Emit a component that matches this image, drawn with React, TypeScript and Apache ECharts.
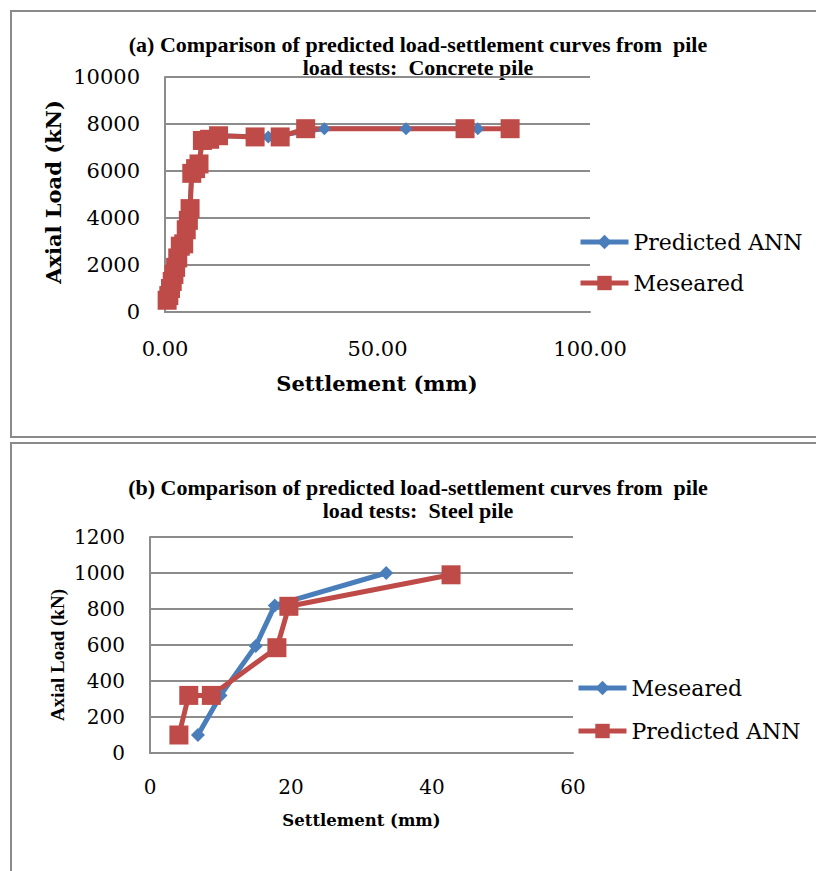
import React, { useEffect, useRef } from "react";
import * as echarts from "echarts";

// ---- Data: (a) Concrete pile ----
const topAnnSettlement = [0.6, 1.0, 1.5, 2.0, 2.5, 3.0, 3.6, 4.4, 5.0, 5.4, 5.8, 6.3, 7.0, 8.0, 8.8, 11.0, 13.5, 24.3, 37.5, 56.7, 73.6];
const topAnnLoad = [500, 750, 1050, 1400, 1700, 2100, 2500, 2850, 3200, 3800, 4400, 5900, 6200, 6400, 7300, 7400, 7500, 7450, 7800, 7800, 7800];
const topMesSettlement = [0.5, 0.9, 1.3, 1.7, 2.1, 2.5, 3.0, 3.6, 4.4, 5.0, 5.5, 5.9, 6.3, 7.2, 8.0, 8.8, 10.5, 12.6, 21.2, 27.1, 33.1, 70.6, 81.2];
const topMesLoad = [500, 700, 1000, 1300, 1600, 1900, 2300, 2800, 2900, 3500, 3900, 4400, 5900, 6100, 6300, 7300, 7350, 7500, 7450, 7450, 7800, 7800, 7800];

// ---- Data: (b) Steel pile ----
const botMesSettlement = [6.8, 10.0, 15.0, 17.7, 33.5];
const botMesLoad = [100, 320, 595, 820, 1000];
const botAnnSettlement = [4.1, 5.5, 8.7, 18.0, 19.7, 42.7];
const botAnnLoad = [100, 320, 320, 585, 815, 990];

const topTitle = ["(a) Comparison of predicted load-settlement curves from  pile", "load tests:  Concrete pile"];
const botTitle = ["(b) Comparison of predicted load-settlement curves from  pile", "load tests:  Steel pile"];

const BLUE = "#4A7EBB";
const RED = "#BE4B48";
const GRID = "#8c8c8c";
const CENTURY = "DejaVu Serif";
const TIMES = "Liberation Serif";

const pairs = (xs: number[], ys: number[]) => xs.map((x, i) => [x, ys[i]]);

function titleText(x: number, y: number, text: string) {
  return {
    type: "text",
    x,
    y,
    style: {
      text,
      fontFamily: TIMES,
      fontWeight: "bold",
      fontSize: 22,
      fill: "#000",
      textAlign: "center",
      textVerticalAlign: "middle",
    },
  };
}

function topOption(): any {
  return {
    animation: false,
    graphic: [
      { type: "rect", shape: { x: 11, y: 11, width: 830, height: 426 }, style: { fill: "none", stroke: "#8a8a8a", lineWidth: 2 } },
      titleText(418, 44, topTitle[0]),
      titleText(418, 67, topTitle[1]),
      {
        type: "text", x: 377, y: 383,
        style: { text: "Settlement (mm)", fontFamily: CENTURY, fontWeight: "bold", fontSize: 21, fill: "#000", textAlign: "center", textVerticalAlign: "middle" },
      },
      {
        type: "text", x: 53, y: 192, rotation: Math.PI / 2,
        style: { text: "Axial Load (kN)", fontFamily: CENTURY, fontWeight: "bold", fontSize: 21, fill: "#000", textAlign: "center", textVerticalAlign: "middle" },
      },
    ],
    grid: { left: 165, top: 77, width: 425, height: 235 },
    xAxis: {
      type: "value", min: 0, max: 100, interval: 50,
      axisLine: { show: true, lineStyle: { color: GRID, width: 2 } },
      axisTick: { show: false },
      splitLine: { show: false },
      axisLabel: { formatter: (v: number) => v.toFixed(2), fontFamily: CENTURY, fontSize: 21, color: "#000", margin: 26 },
    },
    yAxis: {
      type: "value", min: 0, max: 10000, interval: 2000,
      axisLine: { show: true, lineStyle: { color: GRID, width: 2 } },
      axisTick: { show: false },
      splitLine: { show: true, lineStyle: { color: GRID, width: 2 } },
      axisLabel: { formatter: (v: number) => String(v), fontFamily: CENTURY, fontSize: 21, color: "#000", margin: 25 },
    },
    legend: {
      orient: "vertical", left: 573, top: 226, itemWidth: 48, itemHeight: 18, itemGap: 19,
      lineStyle: { width: 5 },
      textStyle: { fontFamily: CENTURY, fontSize: 22, color: "#000" },
      data: ["Predicted ANN", "Meseared"],
    },
    series: [
      {
        name: "Predicted ANN", type: "line", data: pairs(topAnnSettlement, topAnnLoad),
        symbol: "diamond", symbolSize: 13, itemStyle: { color: BLUE }, lineStyle: { color: BLUE, width: 4.5 },
      },
      {
        name: "Meseared", type: "line", data: pairs(topMesSettlement, topMesLoad),
        symbol: "rect", symbolSize: 19, itemStyle: { color: RED }, lineStyle: { color: RED, width: 5 },
      },
    ],
  };
}

function botOption(): any {
  return {
    animation: false,
    graphic: [
      { type: "rect", shape: { x: 11, y: 3, width: 830, height: 460 }, style: { fill: "none", stroke: "#8a8a8a", lineWidth: 2 } },
      titleText(418, 47, botTitle[0]),
      titleText(418, 70, botTitle[1]),
      {
        type: "text", x: 361.5, y: 380,
        style: { text: "Settlement (mm)", fontFamily: CENTURY, fontWeight: "bold", fontSize: 16.5, fill: "#000", textAlign: "center", textVerticalAlign: "middle" },
      },
      {
        type: "text", x: 57, y: 215, rotation: Math.PI / 2,
        style: { text: "Axial Load (kN)", fontFamily: TIMES, fontWeight: "bold", fontSize: 19, fill: "#000", textAlign: "center", textVerticalAlign: "middle" },
      },
    ],
    grid: { left: 150, top: 97, width: 423, height: 216 },
    xAxis: {
      type: "value", min: 0, max: 60, interval: 20,
      axisLine: { show: true, lineStyle: { color: GRID, width: 2 } },
      axisTick: { show: false },
      splitLine: { show: false },
      axisLabel: { fontFamily: CENTURY, fontSize: 20, color: "#000", margin: 24 },
    },
    yAxis: {
      type: "value", min: 0, max: 1200, interval: 200,
      axisLine: { show: true, lineStyle: { color: GRID, width: 2 } },
      axisTick: { show: false },
      splitLine: { show: true, lineStyle: { color: GRID, width: 2 } },
      axisLabel: { formatter: (v: number) => String(v), fontFamily: CENTURY, fontSize: 20, color: "#000", margin: 25 },
    },
    legend: {
      orient: "vertical", left: 571, top: 232, itemWidth: 48, itemHeight: 18, itemGap: 21,
      lineStyle: { width: 5 },
      textStyle: { fontFamily: CENTURY, fontSize: 22, color: "#000" },
      data: ["Meseared", "Predicted ANN"],
    },
    series: [
      {
        name: "Meseared", type: "line", data: pairs(botMesSettlement, botMesLoad),
        symbol: "diamond", symbolSize: 14, itemStyle: { color: BLUE }, lineStyle: { color: BLUE, width: 5 },
      },
      {
        name: "Predicted ANN", type: "line", data: pairs(botAnnSettlement, botAnnLoad),
        symbol: "rect", symbolSize: 19, itemStyle: { color: RED }, lineStyle: { color: RED, width: 5 },
      },
    ],
  };
}

export default function App() {
  const topRef = useRef<HTMLDivElement>(null);
  const botRef = useRef<HTMLDivElement>(null);
  useEffect(() => {
    const a = echarts.init(topRef.current!, undefined, { renderer: "svg" });
    const b = echarts.init(botRef.current!, undefined, { renderer: "svg" });
    a.setOption(topOption());
    b.setOption(botOption());
    return () => {
      a.dispose();
      b.dispose();
    };
  }, []);
  return (
    <div style={{ position: "fixed", left: 0, top: 0, width: 816, height: 871, background: "#fff" }}>
      <div ref={topRef} style={{ position: "absolute", left: 0, top: 0, width: 816, height: 440 }} />
      <div ref={botRef} style={{ position: "absolute", left: 0, top: 440, width: 816, height: 431 }} />
    </div>
  );
}
